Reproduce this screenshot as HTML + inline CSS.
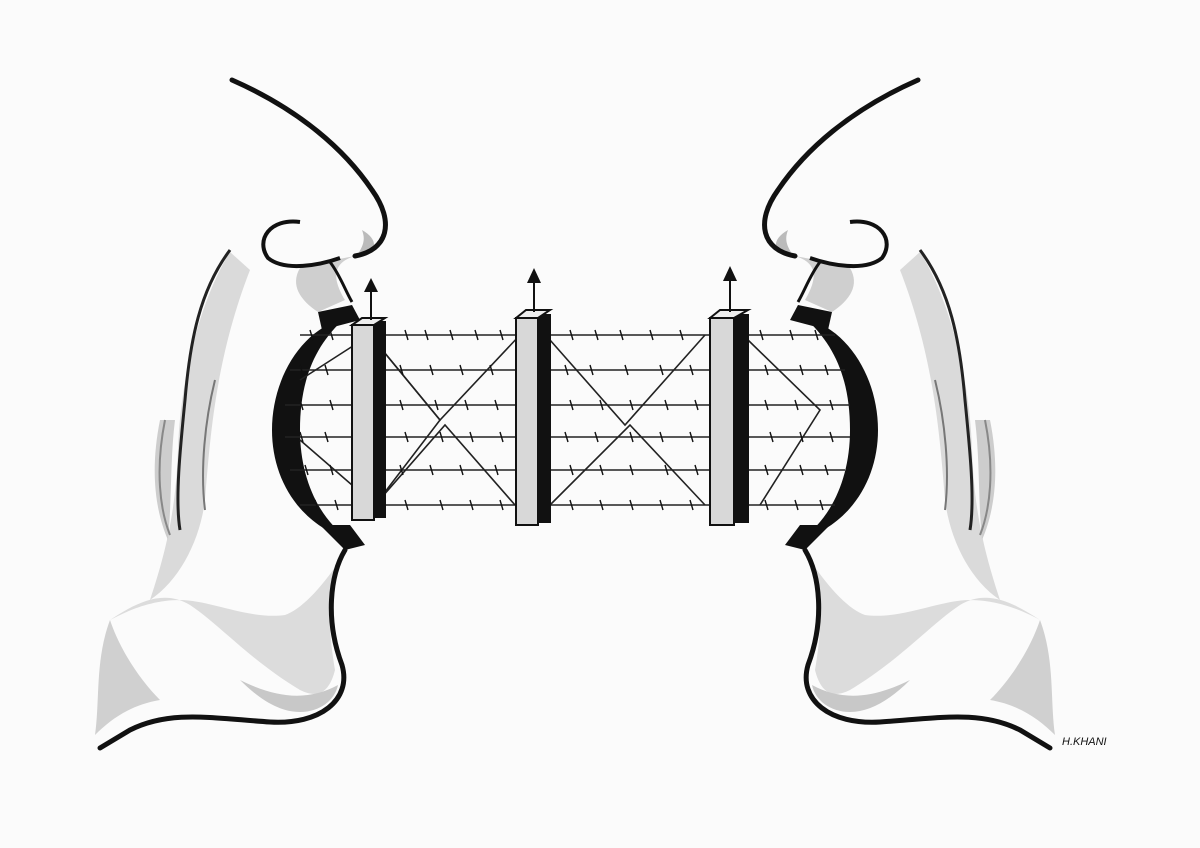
<!DOCTYPE html>
<html><head><meta charset="utf-8"><style>
html,body{margin:0;padding:0;background:#fbfbfb;}
svg{display:block}
</style></head><body>
<svg width="1200" height="848" viewBox="0 0 1200 848" xmlns="http://www.w3.org/2000/svg">
<rect width="1200" height="848" fill="#fbfbfb"/>
<defs>
<g id="face">
  <!-- light shading regions -->
  <path d="M355,256 C335,262 330,275 345,300 L318,312 C300,300 290,285 300,268 C315,262 335,260 355,256 Z" fill="#cfcfcf"/>
  <path d="M362,230 C380,240 378,255 355,258 C365,245 365,238 362,230 Z" fill="#bbb"/>
  <path d="M230,252 C200,300 180,380 178,450 C176,500 170,540 150,600 C180,580 200,540 205,500 C210,440 215,360 250,270 Z" fill="#dadada"/>
  <path d="M160,420 C150,470 155,510 168,540 C172,500 170,460 175,420 Z" fill="#cdcdcd"/>
  <path d="M110,620 C140,600 165,590 190,605 C220,625 250,660 300,690 C320,700 330,690 335,670 C330,640 325,600 340,560 C320,590 300,610 285,615 C250,620 210,600 180,600 C150,600 125,612 110,620 Z" fill="#dcdcdc"/>
  <path d="M110,620 C95,660 100,700 95,735 C110,720 130,705 160,700 C140,680 120,650 110,620 Z" fill="#d0d0d0"/>
  <path d="M240,680 C260,700 280,712 300,712 C320,712 335,700 338,685 C310,700 280,700 240,680 Z" fill="#c8c8c8"/>
  <!-- forehead / nose line -->
  <path d="M232,80 C300,110 345,150 372,190 C395,222 388,250 355,256" fill="none" stroke="#111" stroke-width="5" stroke-linecap="round"/>
  <!-- nostril curl -->
  <path d="M300,222 C270,218 255,240 268,258 C285,272 320,265 340,258" fill="none" stroke="#111" stroke-width="4"/>
  <path d="M330,262 C340,275 345,290 352,302" fill="none" stroke="#111" stroke-width="3"/>
  <!-- mouth dark crescent -->
  <path d="M345,318 C300,330 272,380 272,430 C272,480 300,525 350,540 C320,520 300,480 300,430 C300,380 315,345 345,318 Z" fill="#111"/>
  <path d="M318,312 L352,305 L360,320 L322,330 Z" fill="#111"/>
  <path d="M320,525 L350,525 L365,545 L345,550 Z" fill="#111"/>
  <!-- lower lip / chin / jaw -->
  <path d="M345,550 C330,575 325,620 342,665 C352,700 320,725 270,722 C210,718 170,710 130,730 L100,748" fill="none" stroke="#111" stroke-width="5" stroke-linecap="round"/>
  <!-- cheek lines -->
  <path d="M230,250 C200,290 190,340 185,400 C180,450 175,500 180,530" fill="none" stroke="#222" stroke-width="3"/>
  <path d="M215,380 C205,420 200,470 205,510" fill="none" stroke="#777" stroke-width="2"/>
  <path d="M165,420 C155,470 160,510 170,535" fill="none" stroke="#888" stroke-width="2"/>
</g>
</defs>
<use href="#face"/>
<use href="#face" transform="translate(1150,0) scale(-1,1)"/>

<!-- fence -->
<g stroke="#222" stroke-width="1.6" fill="none">
  <line x1="300" y1="335" x2="835" y2="335"/>
  <line x1="290" y1="370" x2="845" y2="370"/>
  <line x1="285" y1="405" x2="850" y2="405"/>
  <line x1="285" y1="437" x2="850" y2="437"/>
  <line x1="290" y1="470" x2="845" y2="470"/>
  <line x1="300" y1="505" x2="835" y2="505"/>
  <path d="M300,380 L370,335 L440,420 L375,505 L300,440"/>
  <path d="M370,335 L440,420 L520,335"/>
  <path d="M375,505 L445,425 L515,505"/>
  <path d="M550,340 L625,425 L705,335"/>
  <path d="M550,505 L630,425 L705,505"/>
  <path d="M748,340 L820,410 L760,505"/>
</g>
<g stroke="#111" stroke-width="1.4">
  <path d="M310,330 l3,10 M330,330 l3,10 M405,330 l3,10 M425,330 l3,10 M450,330 l3,10 M475,330 l3,10 M500,330 l3,10 M570,330 l3,10 M595,330 l3,10 M620,330 l3,10 M650,330 l3,10 M680,330 l3,10 M760,330 l3,10 M790,330 l3,10 M815,330 l3,10"/>
  <path d="M300,365 l3,10 M325,365 l3,10 M400,365 l3,10 M430,365 l3,10 M460,365 l3,10 M490,365 l3,10 M565,365 l3,10 M590,365 l3,10 M625,365 l3,10 M660,365 l3,10 M690,365 l3,10 M765,365 l3,10 M800,365 l3,10 M825,365 l3,10"/>
  <path d="M300,400 l3,10 M330,400 l3,10 M400,400 l3,10 M435,400 l3,10 M465,400 l3,10 M495,400 l3,10 M570,400 l3,10 M600,400 l3,10 M630,400 l3,10 M665,400 l3,10 M695,400 l3,10 M765,400 l3,10 M795,400 l3,10 M830,400 l3,10"/>
  <path d="M300,432 l3,10 M325,432 l3,10 M405,432 l3,10 M440,432 l3,10 M470,432 l3,10 M500,432 l3,10 M565,432 l3,10 M595,432 l3,10 M630,432 l3,10 M660,432 l3,10 M690,432 l3,10 M770,432 l3,10 M800,432 l3,10 M830,432 l3,10"/>
  <path d="M305,465 l3,10 M330,465 l3,10 M400,465 l3,10 M430,465 l3,10 M460,465 l3,10 M495,465 l3,10 M570,465 l3,10 M600,465 l3,10 M630,465 l3,10 M665,465 l3,10 M695,465 l3,10 M765,465 l3,10 M800,465 l3,10 M825,465 l3,10"/>
  <path d="M315,500 l3,10 M335,500 l3,10 M405,500 l3,10 M440,500 l3,10 M470,500 l3,10 M500,500 l3,10 M570,500 l3,10 M600,500 l3,10 M630,500 l3,10 M660,500 l3,10 M690,500 l3,10 M765,500 l3,10 M795,500 l3,10 M820,500 l3,10"/>
</g>
<!-- posts -->
<g stroke="#111" stroke-width="2">
  <rect x="352" y="325" width="22" height="195" fill="#d8d8d8"/>
  <rect x="374" y="322" width="11" height="195" fill="#111"/>
  <polygon points="352,325 362,318 385,318 374,325" fill="#eee"/>
  <rect x="516" y="318" width="22" height="207" fill="#d8d8d8"/>
  <rect x="538" y="315" width="12" height="207" fill="#111"/>
  <polygon points="516,318 526,310 550,310 538,318" fill="#eee"/>
  <rect x="710" y="318" width="24" height="207" fill="#d8d8d8"/>
  <rect x="734" y="315" width="14" height="207" fill="#111"/>
  <polygon points="710,318 720,310 748,310 734,318" fill="#eee"/>
  <line x1="371" y1="320" x2="371" y2="288"/>
  <line x1="534" y1="312" x2="534" y2="280"/>
  <line x1="730" y1="312" x2="730" y2="280"/>
</g>
<g fill="#111">
  <polygon points="371,278 364,292 378,292"/>
  <polygon points="534,268 527,283 541,283"/>
  <polygon points="730,266 723,281 737,281"/>
</g>
<text x="1062" y="745" font-family="Liberation Sans, sans-serif" font-size="11" font-style="italic" fill="#111">H.KHANI</text>
</svg>
</body></html>
